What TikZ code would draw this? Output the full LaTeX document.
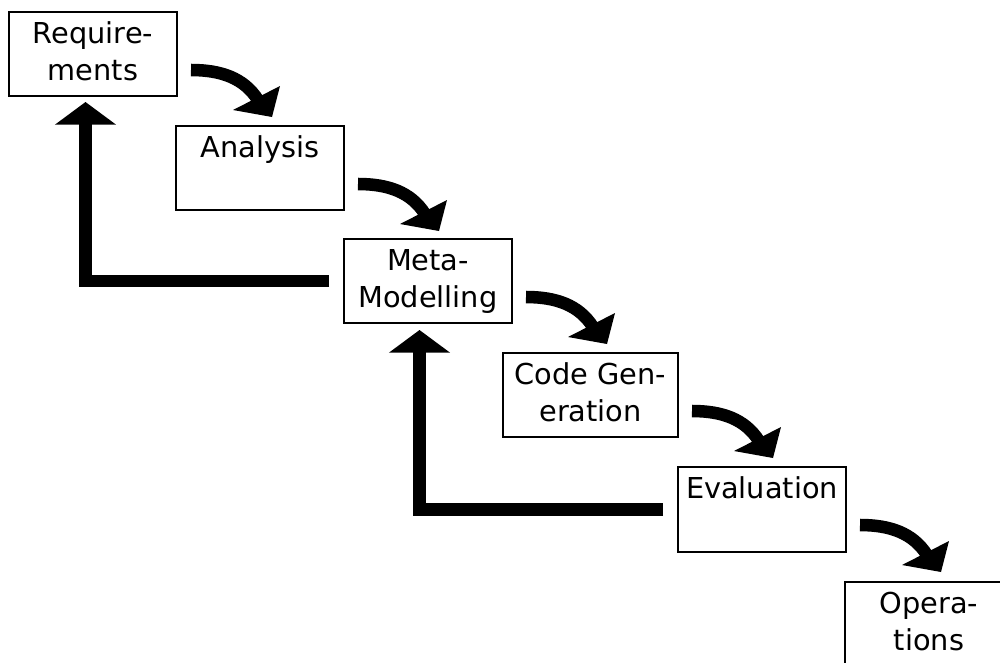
\documentclass[tikz,border=0pt]{standalone}
\usepackage{fontspec}
\setmainfont{DejaVu Sans}
\usetikzlibrary{arrows.meta,calc}
\begin{document}
\begin{tikzpicture}[x=0.75pt,y=-0.75pt,
  stage/.style={draw, line width=0.9pt, inner sep=0pt, outer sep=0pt, minimum width=126pt, minimum height=63pt},
  stagetext/.style={anchor=base, align=center, inner sep=0pt, font=\fontsize{21.6pt}{28.1pt}\selectfont},
  flowshaft/.style={line width=9.4pt},
  flowhead/.style={fill=black},
  back/.style={line width=9.4pt, -{Triangle[length=17pt,width=45pt]}}]
\fill[white] (0,0) rectangle (1000,662);
\useasboundingbox (0,0) rectangle (1000,662);
% stages
\node[stage] (req) at (93,54) {};
\node[stagetext] (reqt) at ($(req.north)+(0,68.5)$) {Require-\\ments};
\node[stage] (ana) at (260,168) {};
\node[stagetext] (anat) at ($(ana.north)+(0,31)$) {Analysis};
\node[stage] (meta) at (428,281) {};
\node[stagetext] (metat) at ($(meta.north)+(0,68.5)$) {Meta-\\Modelling};
\node[stage, minimum width=131.25pt] (code) at (590.5,395) {};
\node[stagetext] (codet) at ($(code.north)+(0,68.5)$) {Code Gen-\\eration};
\node[stage, minimum height=63.75pt] (eval) at (762,509.5) {};
\node[stagetext] (evalt) at ($(eval.north)+(0,31)$) {Evaluation};
\node[stage] (ops) at (929,624) {};
\node[stagetext] (opst) at ($(ops.north)+(0,68.5)$) {Opera-\\tions};
% forward curved arrows (shaft + head)
\foreach \src [count=\i] in {req,ana,meta,code,eval}{
  \coordinate (s\i) at ($(\src.north east)+(14,58)$);
  \coordinate (b\i) at ($(\src.north east)+(81,88)$);
  \coordinate (t\i) at ($(\src.north east)+(95,105)$);
  \coordinate (hl\i) at ($(\src.north east)+(56,98)$);
  \coordinate (hr\i) at ($(\src.north east)+(103,74)$);
  \draw[flowshaft] (s\i) .. controls ($(s\i)+(30,0)$) and ($(b\i)+(-14,-22)$) .. (b\i);
  \fill[flowhead] (hl\i) -- (t\i) -- (hr\i) -- cycle;
}
% feedback arrows
\coordinate (f1s) at ($(meta.west)+(-15,0)$);
\coordinate (f1t) at ($(req.south)+(-7.5,6)$);
\draw[back] (f1s) -| (f1t);
\coordinate (f2s) at ($(eval.west)+(-15,0)$);
\coordinate (f2t) at ($(meta.south)+(-8.5,7)$);
\draw[back] (f2s) -| (f2t);
\end{tikzpicture}
\end{document}
